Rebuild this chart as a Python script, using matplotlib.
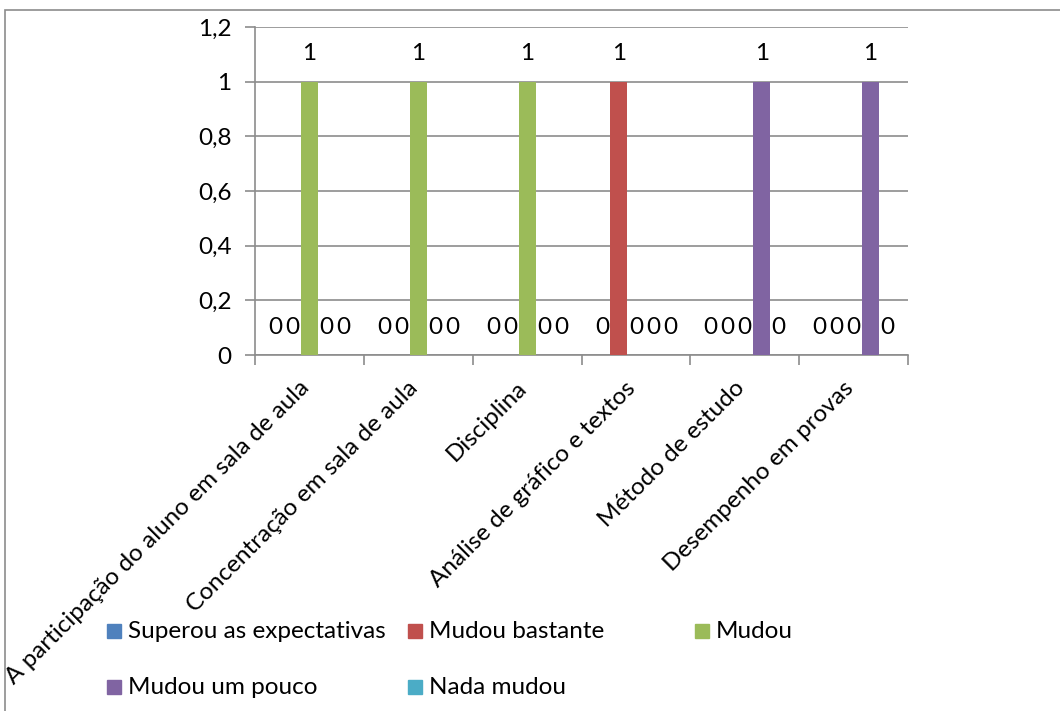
import matplotlib
matplotlib.use('Agg')
import matplotlib.pyplot as plt
from matplotlib.patches import Rectangle
import numpy as np

plt.rcParams['font.family'] = ['Lato', 'DejaVu Sans']

categories = [
    'A participação do aluno em sala de aula',
    'Concentração em sala de aula',
    'Disciplina',
    'Análise de gráfico e textos',
    'Método de estudo',
    'Desempenho em provas',
]
series_names = ['Superou as expectativas', 'Mudou bastante', 'Mudou',
                'Mudou um pouco', 'Nada mudou']
superou = [0, 0, 0, 0, 0, 0]
bastante = [0, 0, 0, 1, 0, 0]
mudou = [1, 1, 1, 0, 0, 0]
pouco = [0, 0, 0, 0, 1, 1]
nada = [0, 0, 0, 0, 0, 0]
series_values = [superou, bastante, mudou, pouco, nada]
colors = ['#4F81BD', '#C0504D', '#9BBB59', '#8064A2', '#4BACC6']

FS = 17.5
W, H = 1060, 711
fig = plt.figure(figsize=(W / 100, H / 100), dpi=100)
fig.patches.append(Rectangle((5 / W, -0.1), 1.2, 1 - 10 / H + 0.1,
                             transform=fig.transFigure, fill=False,
                             edgecolor='#8c8c8c', linewidth=1.2))

ax = fig.add_axes([255 / W, 1 - 355 / H, (908 - 255) / W, (355 - 27) / H])

x = np.arange(len(categories))
bw = 0.156
for i, (vals, col) in enumerate(zip(series_values, colors)):
    xs = x + (i - 2) * bw
    ax.bar(xs, vals, width=bw, color=col, zorder=3)
    for xi, v in zip(xs, vals):
        ax.annotate(f'{v:g}', xy=(xi, v), xytext=(0, 20),
                    textcoords='offset points', ha='center', va='center',
                    fontsize=FS)

ax.set_xlim(-0.5, len(categories) - 0.5)
ax.set_ylim(0, 1.2)
ax.set_yticks(np.arange(0, 1.21, 0.2))
ax.yaxis.set_major_formatter(plt.FuncFormatter(
    lambda v, _: f'{v:.1f}'.replace('.', ',').replace(',0', '')))
ax.grid(axis='y', color='#8c8c8c', linewidth=1.2, zorder=0)
for s in ['top', 'right']:
    ax.spines[s].set_visible(False)
for s in ['left', 'bottom']:
    ax.spines[s].set_color('#8c8c8c')
    ax.spines[s].set_linewidth(1.2)
ax.tick_params(axis='y', length=7, width=1.2, color='#8c8c8c',
               labelsize=FS, pad=10)

# category boundaries carry the tick marks, labels sit at the centers
ax.set_xticks(np.arange(-0.5, len(categories)), minor=False)
ax.set_xticklabels([])
ax.tick_params(axis='x', length=7, width=1.2, color='#8c8c8c')
for xi, name in zip(x, categories):
    ax.annotate(name, xy=(xi, 0), xytext=(-8, -16), textcoords='offset points',
                rotation=45, rotation_mode='anchor', ha='right', va='top',
                fontsize=FS)

# legend grid, two rows of three
col_x = [107, 408, 695]
row_y = [631, 687]
for k, (name, col) in enumerate(zip(series_names, colors)):
    cx = col_x[k % 3]
    cy = row_y[k // 3]
    fig.patches.append(Rectangle((cx / W, 1 - (cy + 7) / H), 14 / W, 14 / H,
                                 transform=fig.transFigure, color=col))
    fig.text((cx + 21) / W, 1 - cy / H, name, ha='left', va='center',
             fontsize=FS)

fig.savefig('out.png', dpi=100)
